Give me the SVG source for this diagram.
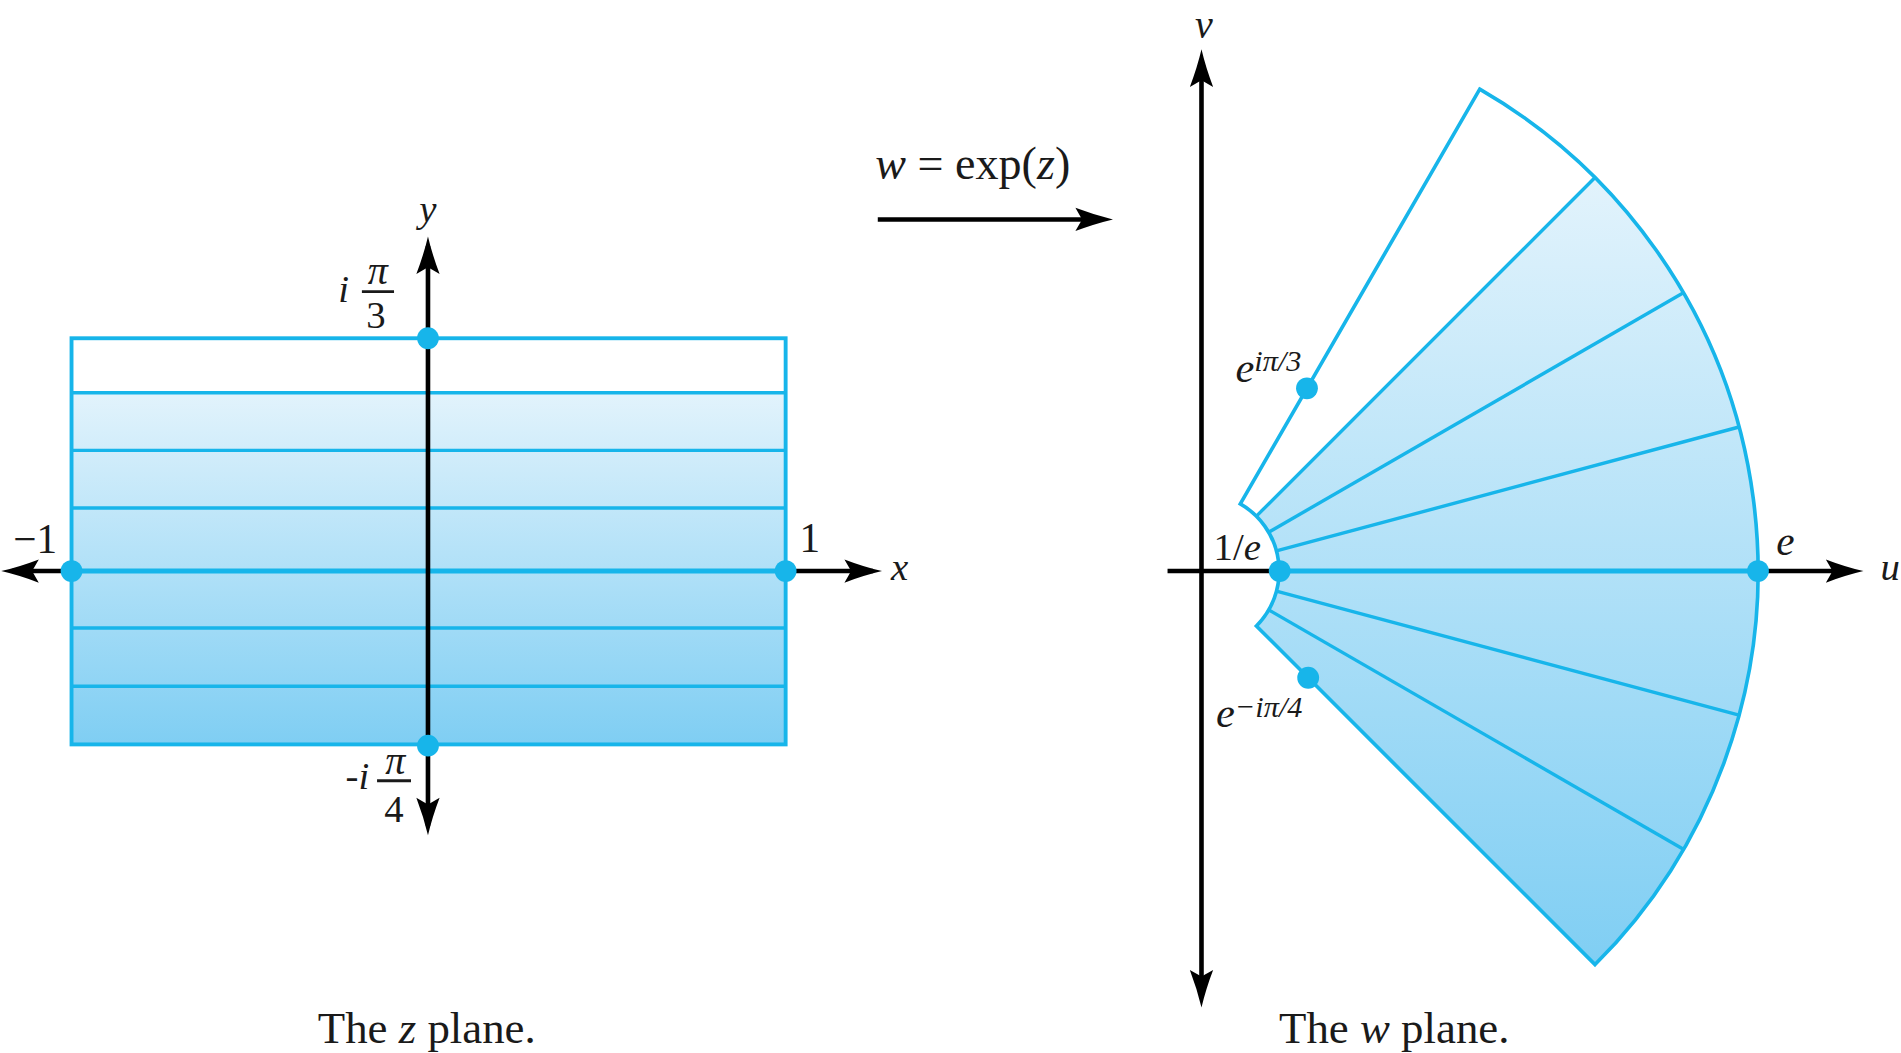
<svg xmlns="http://www.w3.org/2000/svg" xmlns:xlink="http://www.w3.org/1999/xlink" width="1901" height="1053" viewBox="0 0 1901 1053">
<style>
text{fill:#1a1a1a}
.it{font-style:italic}
.ax{stroke:#000;stroke-width:3.8;fill:none}
.cy{stroke:#17b5ea;stroke-width:2.8;fill:none}
.cyb{stroke:#17b5ea;stroke-width:4;fill:none}
.dot{fill:#17b5ea}
.bar{stroke:#1a1a1a;stroke-width:2.4}
</style>
<defs>
<linearGradient id="gL" gradientUnits="userSpaceOnUse" x1="0" y1="324" x2="0" y2="614">
<stop offset="0" stop-color="#e2f3fc"/><stop offset="1" stop-color="#7fcef3"/>
</linearGradient>
<linearGradient id="gR" gradientUnits="userSpaceOnUse" x1="0" y1="147" x2="0" y2="800">
<stop offset="0" stop-color="#e2f3fc"/><stop offset="1" stop-color="#7fcef3"/>
</linearGradient>
<path id="ah" d="M0,0 Q-15,-3.5 -31,-9.6 L-25.5,0 L-31,9.6 Q-15,3.5 0,0 Z" fill="#000"/>
</defs>
<rect width="1901" height="1053" fill="#fff"/>
<g transform="scale(1.2124)" font-family="'Liberation Serif', 'Times New Roman', 'DejaVu Serif', serif">
<g id="zplane">
<rect x="59" y="279" width="589" height="45" fill="#fff"/>
<rect x="59" y="324" width="589" height="290" fill="url(#gL)"/>
<g class="cy">
<line x1="59" y1="324" x2="648" y2="324"/>
<line x1="59" y1="371.5" x2="648" y2="371.5"/>
<line x1="59" y1="419" x2="648" y2="419"/>
<line x1="59" y1="518" x2="648" y2="518"/>
<line x1="59" y1="566" x2="648" y2="566"/>
</g>
<line class="cyb" x1="59" y1="471" x2="648" y2="471"/>
<rect class="cy" x="59" y="279" width="589" height="335" style="stroke-width:3.2"/>
</g>
<g id="zaxes">
<line class="ax" x1="10" y1="471" x2="59" y2="471"/>
<line class="ax" x1="648" y1="471" x2="720" y2="471"/>
<line class="ax" x1="353" y1="203" x2="353" y2="681"/>
<use xlink:href="#ah" transform="translate(1,471) rotate(180)"/>
<use xlink:href="#ah" transform="translate(727.5,471)"/>
<use xlink:href="#ah" transform="translate(353,195) rotate(-90)"/>
<use xlink:href="#ah" transform="translate(353,689) rotate(90)"/>
</g>
<g id="zdots">
<circle class="dot" cx="59" cy="471" r="9"/>
<circle class="dot" cx="648" cy="471" r="9"/>
<circle class="dot" cx="353" cy="279" r="9"/>
<circle class="dot" cx="353" cy="615" r="9"/>
</g>
<g id="zlabels">
<text class="it" x="353" y="183" font-size="32" text-anchor="middle">y</text>
<text class="it" x="742" y="478" font-size="32" text-anchor="middle">x</text>
<text x="29" y="456" font-size="34" text-anchor="middle">−1</text>
<text x="668" y="455" font-size="34" text-anchor="middle">1</text>
<text class="it" x="279" y="249" font-size="32">i</text>
<text class="it" x="311.5" y="234" font-size="33" text-anchor="middle">π</text>
<line class="bar" x1="298.5" y1="240.5" x2="325" y2="240.5"/>
<text x="310" y="270.5" font-size="32" text-anchor="middle">3</text>
<text x="285" y="651" font-size="32">-<tspan class="it">i</tspan></text>
<text class="it" x="326" y="638" font-size="33" text-anchor="middle">π</text>
<line class="bar" x1="311" y1="644" x2="339" y2="644"/>
<text x="325" y="678" font-size="32" text-anchor="middle">4</text>
<text x="352" y="860" font-size="37" text-anchor="middle">The <tspan class="it">z</tspan> plane.</text>
</g>
<g id="map">
<text x="722" y="148" font-size="38"><tspan class="it">w</tspan> = exp(<tspan class="it">z</tspan>)</text>
<line class="ax" x1="724" y1="181" x2="896" y2="181"/>
<use xlink:href="#ah" transform="translate(918,181)"/>
</g>
<g id="waxes">
<line class="ax" x1="963" y1="471" x2="1515" y2="471"/>
<line class="ax" x1="991" y1="60" x2="991" y2="812"/>
<use xlink:href="#ah" transform="translate(1537,471)"/>
<use xlink:href="#ah" transform="translate(991,40.7) rotate(-90)"/>
<use xlink:href="#ah" transform="translate(991,831) rotate(90)"/>
</g>
<g id="wplane">
<path d="M1023,415.6 L1220.5,73.5 A459,459 0 0 1 1315.6,146.4 L1036.3,425.7 A64,64 0 0 0 1023,415.6 Z" fill="#fff"/>
<path d="M1036.3,425.7 L1315.6,146.4 A459,459 0 0 1 1315.6,795.6 L1036.3,516.3 A64,64 0 0 0 1036.3,425.7 Z" fill="url(#gR)"/>
<g class="cy">
<line x1="1036.3" y1="425.7" x2="1315.6" y2="146.4"/>
<line x1="1046.4" y1="439" x2="1388.5" y2="241.5"/>
<line x1="1052.8" y1="454.4" x2="1434.4" y2="352.2"/>
<line x1="1052.8" y1="487.6" x2="1434.4" y2="589.8"/>
<line x1="1046.4" y1="503" x2="1388.5" y2="700.5"/>
</g>
<line class="cyb" x1="1055" y1="471" x2="1450" y2="471"/>
<path class="cy" d="M1023,415.6 L1220.5,73.5 A459,459 0 0 1 1315.6,795.6 L1036.3,516.3 A64,64 0 0 0 1023,415.6 Z" style="stroke-width:3"/>
</g>
<g id="wdots">
<circle class="dot" cx="1055.5" cy="471" r="9"/>
<circle class="dot" cx="1450" cy="471" r="9"/>
<circle class="dot" cx="1078" cy="320.3" r="9"/>
<circle class="dot" cx="1079" cy="559" r="9"/>
</g>
<g id="wlabels">
<text class="it" x="993" y="31" font-size="33" text-anchor="middle">v</text>
<text class="it" x="1551" y="478" font-size="32">u</text>
<text class="it" x="1465" y="458" font-size="34">e</text>
<text x="1001" y="462" font-size="32">1/<tspan class="it">e</tspan></text>
<text class="it" x="1019" y="315" font-size="35">e<tspan font-size="25" dy="-9">iπ/3</tspan></text>
<text class="it" x="1003" y="600" font-size="35">e<tspan font-size="25" dy="-9">−iπ/4</tspan></text>
<text x="1150" y="860" font-size="37" text-anchor="middle">The <tspan class="it">w</tspan> plane.</text>
</g>
</g>
</svg>
